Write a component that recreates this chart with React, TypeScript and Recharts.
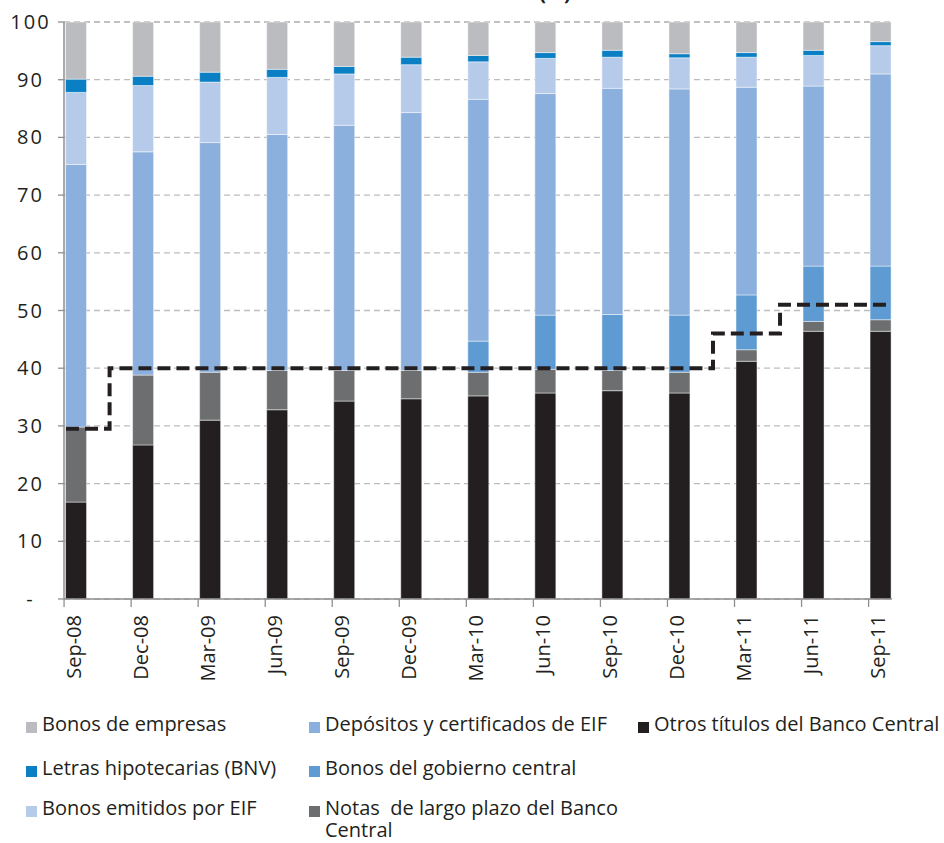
import React from 'react';
import { ComposedChart, Bar, Line, XAxis, YAxis, CartesianGrid, Legend } from 'recharts';

// Trimestres del eje horizontal
const periodos = [
  'Sep-08', 'Dec-08', 'Mar-09', 'Jun-09', 'Sep-09', 'Dec-09', 'Mar-10',
  'Jun-10', 'Sep-10', 'Dec-10', 'Mar-11', 'Jun-11', 'Sep-11',
];

// Participación por instrumento (%), de abajo hacia arriba en cada columna
const otrosTitulosBC = [16.8, 26.7, 31.0, 32.8, 34.3, 34.7, 35.2, 35.7, 36.1, 35.7, 41.2, 46.4, 46.4];
const notasLargoPlazoBC = [13.0, 12.1, 8.3, 6.8, 5.3, 4.9, 4.1, 4.1, 3.5, 3.6, 2.0, 1.7, 2.0];
const bonosGobierno = [0, 0, 0, 0, 0, 0, 5.4, 9.4, 9.7, 9.9, 9.5, 9.6, 9.3];
const depositosEIF = [45.5, 38.7, 39.8, 40.9, 42.5, 44.7, 41.9, 38.4, 39.2, 39.2, 36.0, 31.2, 33.3];
const bonosEmitidosEIF = [12.5, 11.5, 10.5, 9.9, 8.9, 8.3, 6.5, 6.1, 5.4, 5.4, 5.2, 5.3, 4.9];
const letrasHipotecarias = [2.3, 1.6, 1.7, 1.4, 1.3, 1.3, 1.1, 1.0, 1.2, 0.7, 0.8, 0.9, 0.7];
const bonosEmpresas = [9.9, 9.4, 8.7, 8.2, 7.7, 6.1, 5.8, 5.3, 4.9, 5.5, 5.3, 4.9, 3.4];

// Límite (línea escalonada discontinua)
const limite = [29.5, 40, 40, 40, 40, 40, 40, 40, 40, 40, 46, 51, 51];

// Marcas del eje vertical
const yTicks = [0, 10, 20, 30, 40, 50, 60, 70, 80, 90, 100];

const series = [
  { key: 'otros', name: 'Otros títulos del Banco Central', color: '#231f20', values: otrosTitulosBC },
  { key: 'notas', name: 'Notas  de largo plazo del Banco Central', color: '#6d6e70', values: notasLargoPlazoBC },
  { key: 'gobierno', name: 'Bonos del gobierno central', color: '#5f9bd3', values: bonosGobierno },
  { key: 'depositos', name: 'Depósitos y certificados de EIF', color: '#8cb0dd', values: depositosEIF },
  { key: 'bonosEIF', name: 'Bonos emitidos por EIF', color: '#b6cbea', values: bonosEmitidosEIF },
  { key: 'letras', name: 'Letras hipotecarias (BNV)', color: '#0a7fc4', values: letrasHipotecarias },
  { key: 'empresas', name: 'Bonos de empresas', color: '#bbbcbf', values: bonosEmpresas },
];

// Columnas de la leyenda
const legendColumns = [
  { left: 26, width: 280, keys: ['empresas', 'letras', 'bonosEIF'] },
  { left: 309, width: 320, keys: ['depositos', 'gobierno', 'notas'] },
  { left: 638, width: 310, keys: ['otros'] },
];
const legendRowTops = [24, 68, 108];

const X_MIN = -0.18;
const X_MAX = 12.17;
const TICK_SHIFT = 12;

const data = periodos.map((periodo, i) => {
  const row: Record<string, number | string> = { idx: i, periodo, limite: limite[i] };
  series.forEach((s) => {
    row[s.key] = s.values[i];
  });
  return row;
});

// La línea se prolonga un trimestre a cada lado; el área de trazado la recorta
const lineData = [
  { idx: -1, limite: limite[0] },
  ...periodos.map((_, i) => ({ idx: i, limite: limite[i] })),
  { idx: periodos.length, limite: limite[limite.length - 1] },
];

const FONT = '"Open Sans", "DejaVu Sans", sans-serif';
const TEXT = '#231f20';
const AXIS = '#8f8f8f';

const YTick = (props: any) => {
  const { y, payload } = props;
  return (
    <text
      x={30.5}
      y={y}
      dy={7}
      textAnchor="middle"
      fontSize={20}
      fontFamily={FONT}
      fill={TEXT}
      letterSpacing={2}
    >
      {payload.value === 0 ? '-' : payload.value}
    </text>
  );
};

const XTick = (props: any) => {
  const { x, y, payload } = props;
  return (
    <g>
      <line x1={x - TICK_SHIFT} x2={x - TICK_SHIFT} y1={y} y2={y + 8} stroke={AXIS} strokeWidth={1.3} />
      <text
        transform={`translate(${x + 4.5},${y + 16}) rotate(-90)`}
        textAnchor="end"
        fontSize={20}
        fontFamily={FONT}
        fill={TEXT}
      >
        {periodos[payload.value]}
      </text>
    </g>
  );
};

const LegendGrid = () => (
  <div style={{ position: 'relative', width: 944, height: 154, fontFamily: FONT }}>
    {legendColumns.map((col) =>
      col.keys.map((k, r) => {
        const s = series.find((it) => it.key === k)!;
        return (
          <div
            key={k}
            style={{
              position: 'absolute',
              left: col.left,
              top: legendRowTops[r],
              width: col.width,
              fontSize: 20,
              lineHeight: '22px',
              color: TEXT,
              whiteSpace: 'pre-wrap',
              paddingLeft: 16,
              boxSizing: 'border-box',
            }}
          >
            <span
              style={{
                position: 'absolute',
                left: 0,
                top: 8.5,
                width: 11,
                height: 11,
                background: s.color,
              }}
            />
            {s.name}
          </div>
        );
      })
    )}
  </div>
);

export default function App() {
  return (
    <div
      style={{
        position: 'absolute',
        left: 0,
        top: 0,
        width: 944,
        height: 843,
        background: '#ffffff',
        overflow: 'hidden',
        fontFamily: FONT,
      }}
    >
      <div
        style={{
          position: 'absolute',
          left: 405,
          top: -18,
          fontSize: 20,
          lineHeight: '22px',
          fontWeight: 700,
          color: TEXT,
          whiteSpace: 'nowrap',
        }}
      >
        Total cartera (%)
      </div>
      <ComposedChart
        width={944}
        height={843}
        data={data}
        margin={{ top: 22, right: 52, bottom: 0, left: 0 }}
        style={{ position: 'absolute', left: 0, top: 0 }}
      >
        <CartesianGrid
          vertical={false}
          stroke="#bdbdbd"
          strokeWidth={1.3}
          strokeDasharray="6 4"
        />
        <XAxis
          type="number"
          dataKey="idx"
          domain={[X_MIN, X_MAX]}
          allowDataOverflow
          ticks={periodos.map((_, i) => i)}
          interval={0}
          tickSize={0}
          tickMargin={0}
          tickLine={false}
          axisLine={{ stroke: AXIS, strokeWidth: 1.3 }}
          tick={<XTick />}
          height={90}
        />
        <YAxis
          type="number"
          domain={[0, 100]}
          ticks={yTicks}
          interval={0}
          width={64}
          tickSize={6}
          axisLine={{ stroke: AXIS, strokeWidth: 1.5 }}
          tickLine={{ stroke: AXIS, strokeWidth: 1.3 }}
          tick={<YTick />}
        />
        {series.map((s) => (
          <Bar
            key={s.key}
            dataKey={s.key}
            name={s.name}
            stackId="cartera"
            fill={s.color}
            stroke="rgba(255,255,255,0.45)"
            strokeWidth={1}
            barSize={21}
            isAnimationActive={false}
          />
        ))}
        <Line
          data={lineData}
          dataKey="limite"
          type="step"
          stroke={TEXT}
          strokeWidth={4}
          strokeDasharray="13 6"
          dot={false}
          activeDot={false}
          legendType="none"
          isAnimationActive={false}
        />
        <Legend verticalAlign="bottom" height={154} content={<LegendGrid />} wrapperStyle={{ left: 0, width: 944 }} />
      </ComposedChart>
    </div>
  );
}
